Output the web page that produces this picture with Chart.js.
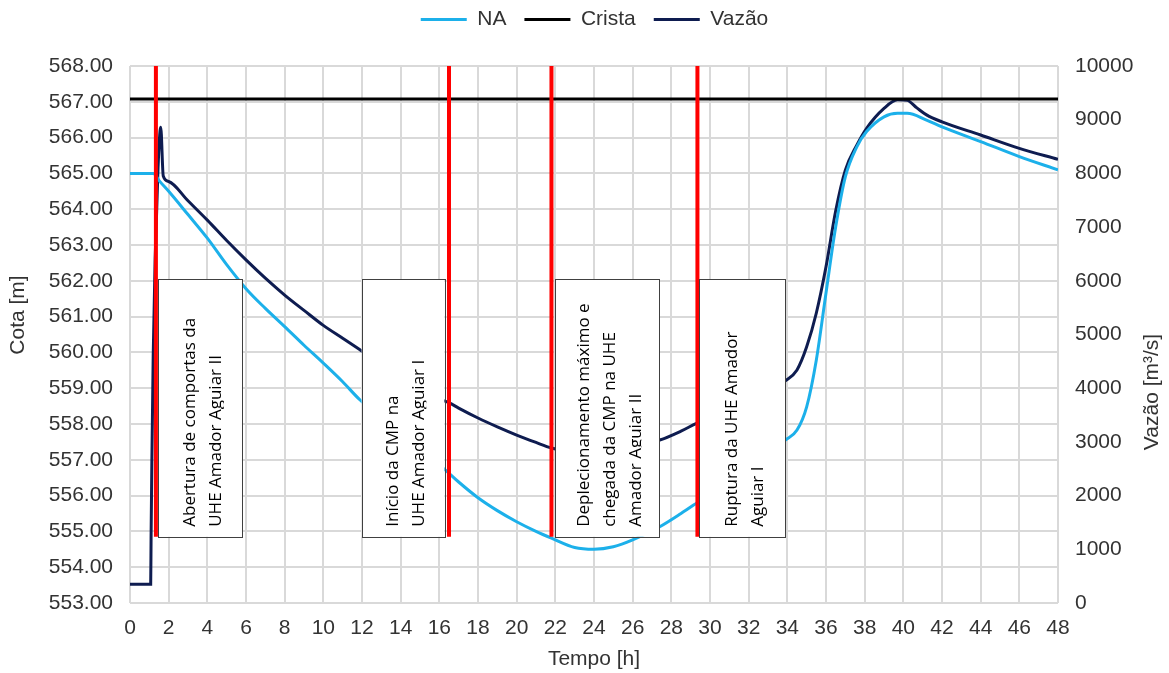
<!DOCTYPE html>
<html>
<head>
<meta charset="utf-8">
<script src="https://cdn.jsdelivr.net/npm/chart.js@4.4.1/dist/chart.umd.min.js"></script>
<style>
  body { margin: 0; background: #fff; }
  canvas { display: block; }
</style>
</head>
<body>
<canvas id="myChart" width="1169" height="673"></canvas>
<script>
// data
const naTime = [0, 1.2, 1.55, 2, 3, 4, 5, 6, 7, 8, 9, 10, 11, 11.9, 13, 14, 15, 16.3, 17, 18, 19, 20, 21, 21.8, 23, 24, 25, 26, 27.4, 28.5, 29.3, 30, 31, 32, 33, 33.9, 34.5, 35, 35.5, 36, 36.5, 37, 37.6, 38.1, 39, 39.7, 40.2, 41.2, 42, 44, 46, 48];
const naLevel = [565.0, 565.0, 564.77, 564.5, 563.85, 563.19, 562.45, 561.78, 561.23, 560.72, 560.2, 559.7, 559.18, 558.67, 558.18, 557.73, 557.28, 556.72, 556.38, 555.94, 555.58, 555.27, 555.0, 554.81, 554.55, 554.5, 554.57, 554.76, 555.13, 555.5, 555.79, 556.05, 556.4, 556.8, 557.2, 557.55, 557.83, 558.48, 559.79, 561.66, 563.5, 564.9, 565.75, 566.17, 566.58, 566.68, 566.68, 566.49, 566.3, 565.89, 565.47, 565.1];

const vazaoTime = [0, 1.07, 1.09, 1.13, 1.2, 1.3, 1.45, 1.59, 1.72, 2, 3, 4, 5, 6, 7, 8, 9, 10, 11, 12, 13, 14, 15, 16, 16.5, 17, 18, 19, 20, 21, 21.8, 22.5, 23.5, 24.5, 25.5, 26.5, 27.4, 28.5, 29.3, 30, 31, 32, 33, 33.9, 34.5, 35, 35.5, 36, 36.5, 37, 37.6, 38.1, 39, 39.7, 40.2, 40.7, 41.2, 42, 44, 46, 48];
const vazaoFlow = [350, 350, 1200, 2600, 4600, 6400, 8100, 8860, 7950, 7850, 7490, 7130, 6750, 6390, 6050, 5735, 5450, 5170, 4930, 4690, 4440, 4210, 4000, 3800, 3730, 3630, 3445, 3280, 3128, 2990, 2886, 2830, 2810, 2840, 2900, 2970, 3035, 3200, 3346, 3450, 3610, 3790, 3960, 4140, 4340, 4770, 5400, 6260, 7300, 8060, 8530, 8840, 9210, 9370, 9360, 9220, 9090, 8960, 8715, 8467, 8262];

const cristaLevel = 567.08;
const timeRange = [0, 48];

const eventTimes = [1.34, 16.5, 21.8, 29.35];
const eventNotes = [
  ['Abertura de comportas da', 'UHE Amador Aguiar II'],
  ['Início da CMP na', 'UHE Amador Aguiar I'],
  ['Deplecionamento máximo e', 'chegada da CMP na UHE', 'Amador Aguiar II'],
  ['Ruptura da UHE Amador', 'Aguiar I']
];

// where the note boxes sit, in axis units
const noteBoxes = [
  { x0: 1.45, x1: 5.79 },
  { x0: 11.98, x1: 16.26 },
  { x0: 21.98, x1: 27.38 },
  { x0: 29.45, x1: 33.9 }
];
const boxTop = 562.05, boxBottom = 554.85;
const eventTop = 568, eventBottom = 554.85;

const axisFont = { family: 'Liberation Sans, Arial, sans-serif', size: 21 };
const textColor = '#333333';
const gridColor = '#d9d9d9';

function pairs(xs, ys) {
  return xs.map((x, i) => ({ x: x, y: ys[i] }));
}

const datasets = [{
  label: 'NA',
  data: pairs(naTime, naLevel),
  borderColor: '#1cb0ea',
  backgroundColor: '#1cb0ea',
  borderWidth: 3,
  yAxisID: 'y',
  cubicInterpolationMode: 'monotone'
}, {
  label: 'Crista',
  data: pairs(timeRange, [cristaLevel, cristaLevel]),
  borderColor: '#000000',
  backgroundColor: '#000000',
  borderWidth: 3,
  yAxisID: 'y'
}, {
  label: 'Vazão',
  data: pairs(vazaoTime, vazaoFlow),
  borderColor: '#0e1c50',
  backgroundColor: '#0e1c50',
  borderWidth: 3,
  yAxisID: 'y1',
  cubicInterpolationMode: 'monotone'
}];

eventTimes.forEach(function(t, i) {
  datasets.push({
    label: 'evento' + i,
    data: [{ x: t, y: eventTop }, { x: t, y: eventBottom }],
    borderColor: '#ff0000',
    borderWidth: 4,
    yAxisID: 'y',
    order: -1
  });
});

function verticalText(ctx, text, x, y) {
  ctx.save();
  ctx.translate(x, y);
  ctx.rotate(-Math.PI / 2);
  ctx.fillText(text, 0, 0);
  ctx.restore();
}

// note boxes with rotated text, plus both axis titles
const notesPlugin = {
  id: 'notes',
  afterDatasetsDraw(chart) {
    const ctx = chart.ctx;
    const xs = chart.scales.x, ys = chart.scales.y;
    noteBoxes.forEach(function(b, i) {
      const left = xs.getPixelForValue(b.x0);
      const right = xs.getPixelForValue(b.x1);
      const top = ys.getPixelForValue(boxTop);
      const bottom = ys.getPixelForValue(boxBottom);
      ctx.save();
      ctx.fillStyle = '#ffffff';
      ctx.fillRect(left, top, right - left, bottom - top);
      ctx.strokeStyle = '#404040';
      ctx.lineWidth = 1;
      ctx.strokeRect(Math.round(left) + 0.5, Math.round(top) + 0.5, Math.round(right - left), Math.round(bottom - top));
      ctx.beginPath();
      ctx.rect(left + 2, top + 2, right - left - 20, bottom - top - 4);
      ctx.clip();
      const lines = eventNotes[i];
      const cx = (left + right) / 2 + 3;
      ctx.fillStyle = '#000000';
      ctx.font = '17px "Open Sans", sans-serif';
      ctx.textAlign = 'left';
      ctx.textBaseline = 'middle';
      lines.forEach(function(line, j) {
        verticalText(ctx, line, cx + (j - (lines.length - 1) / 2) * 26, bottom - 10);
      });
      ctx.restore();
    });
  },
  afterDraw(chart) {
    const ctx = chart.ctx;
    const area = chart.chartArea;
    ctx.save();
    ctx.font = '21px "Liberation Sans", Arial, sans-serif';
    ctx.fillStyle = textColor;
    ctx.textAlign = 'center';
    ctx.textBaseline = 'middle';
    verticalText(ctx, 'Cota [m]', 18, area.top + 249);
    verticalText(ctx, 'Vazão [m³/s]', area.right + 94, area.top + 326);
    ctx.restore();
  }
};

const legendSize = {
  id: 'legendSize',
  beforeInit(chart) {
    const fit = chart.legend.fit;
    chart.legend.fit = function() {
      fit.bind(chart.legend)();
      this.height = 66;
    };
  },
  afterLayout(chart) {
    chart.legend.top = -9;
    chart.legend.left = 20;
  }
};

const config = {
  type: 'line',
  data: { datasets },
  options: {
    responsive: false,
    animation: false,
    events: [],
    elements: { point: { radius: 0 } },
    layout: { padding: 0 },
    plugins: {
      tooltip: { enabled: false },
      legend: {
        position: 'top',
        labels: {
          filter: item => ['NA', 'Crista', 'Vazão'].includes(item.text),
          usePointStyle: true,
          pointStyle: 'line',
          pointStyleWidth: 46,
          font: axisFont,
          color: textColor,
          padding: 18
        }
      }
    },
    scales: {
      x: {
        type: 'linear',
        min: 0,
        max: 48,
        ticks: { stepSize: 2, font: axisFont, color: textColor, padding: 13, maxRotation: 0, autoSkip: false },
        grid: { color: gridColor, lineWidth: 2, drawTicks: false },
        border: { display: false },
        title: { display: true, text: 'Tempo [h]', font: axisFont, color: textColor, padding: { top: 1, bottom: 1 } },
        afterFit: s => { s.height = 70; }
      },
      y: {
        position: 'left',
        min: 553,
        max: 568,
        ticks: { stepSize: 1, font: axisFont, color: textColor, padding: 17, autoSkip: false, callback: v => v.toFixed(2) },
        grid: { color: gridColor, lineWidth: 2, drawTicks: false },
        border: { display: false },
        afterFit: s => { s.width = 130; }
      },
      y1: {
        position: 'right',
        min: 0,
        max: 10000,
        ticks: { stepSize: 1000, font: axisFont, color: textColor, padding: 17, autoSkip: false, callback: v => String(v) },
        grid: { drawOnChartArea: false, drawTicks: false },
        border: { display: false },
        afterFit: s => { s.width = 111; }
      }
    }
  },
  plugins: [notesPlugin, legendSize]
};

const myChart = new Chart(document.getElementById('myChart'), config);
</script>
</body>
</html>
